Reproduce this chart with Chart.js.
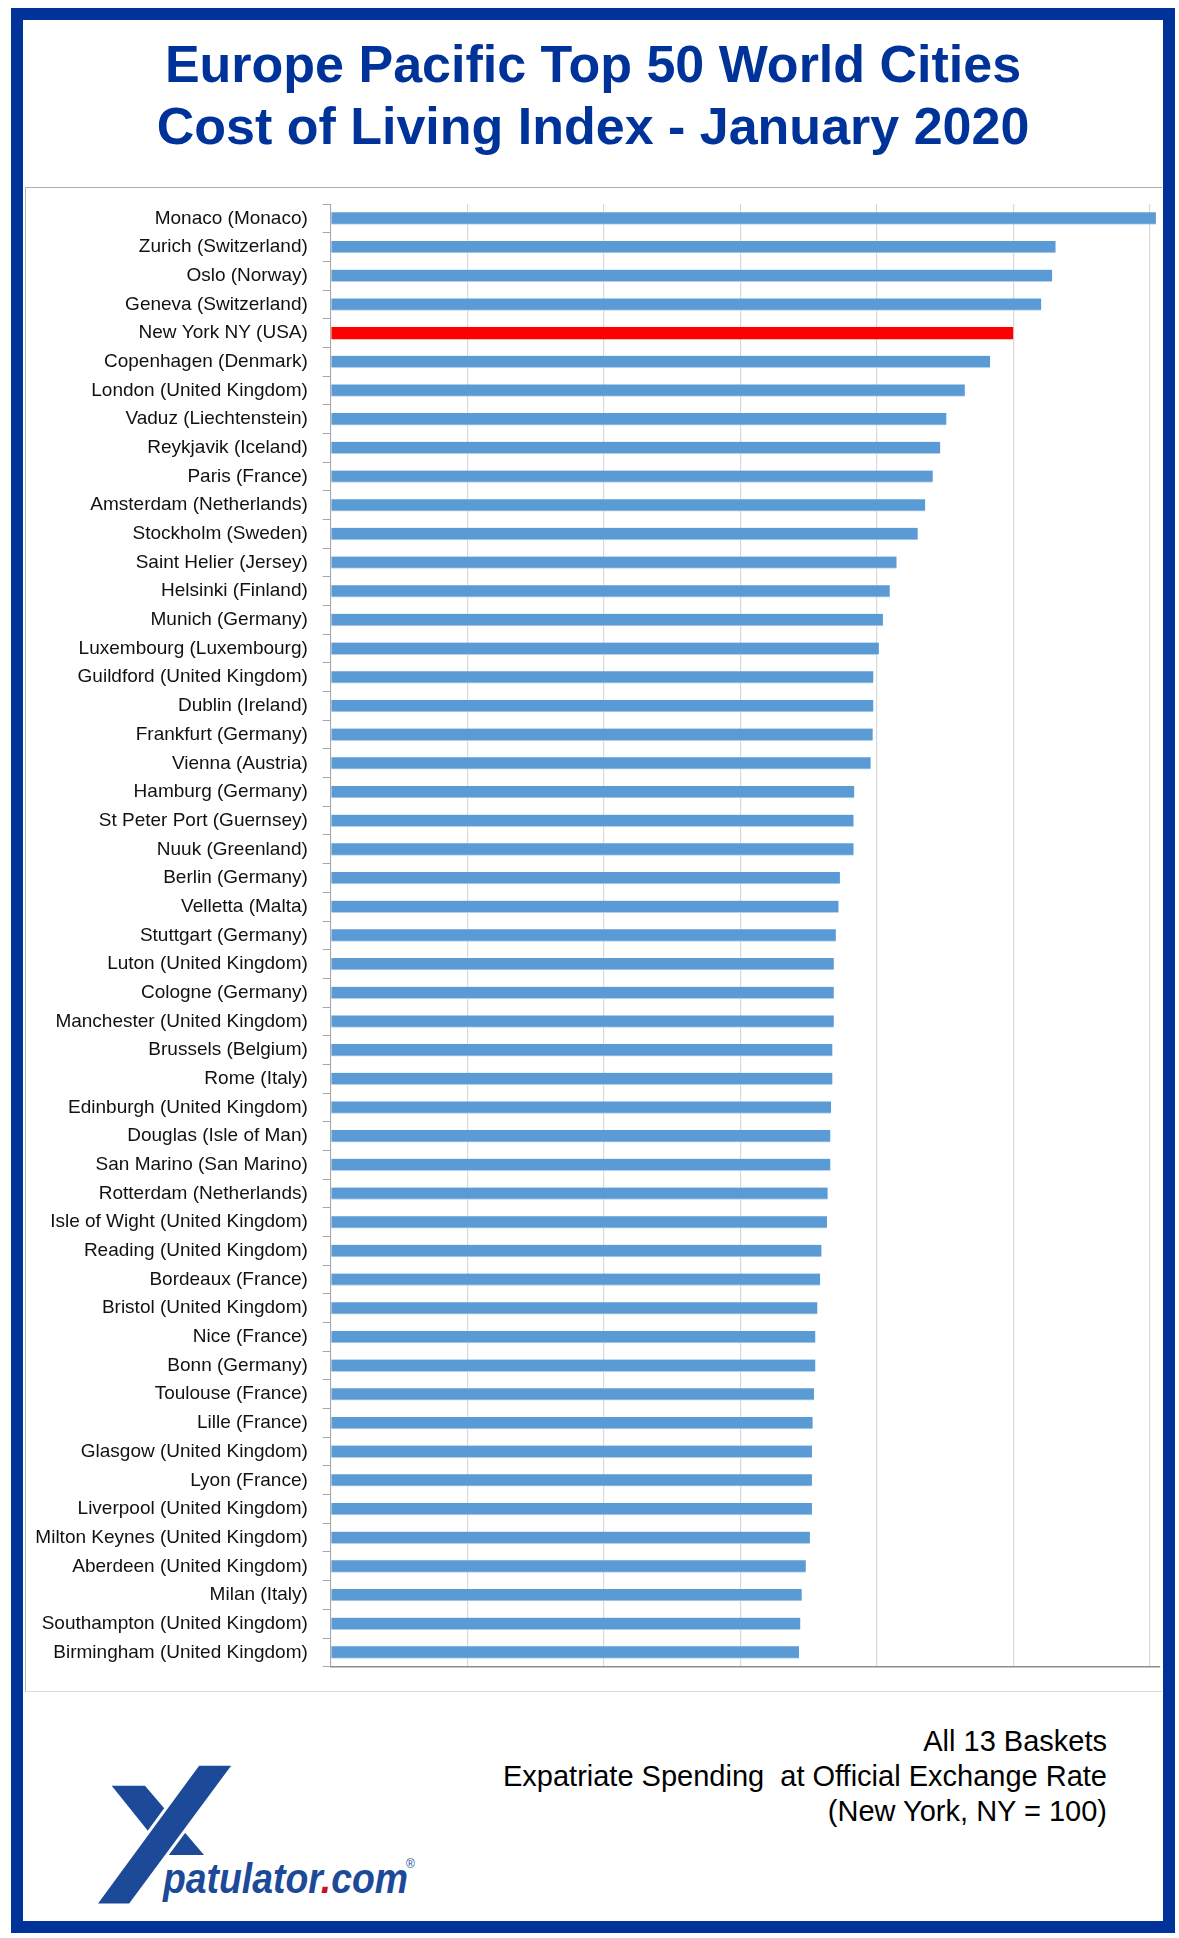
<!DOCTYPE html>
<html lang="en">
<head>
  <meta charset="UTF-8">
  <title>Europe Pacific Top 50 World Cities - Cost of Living Index - January 2020</title>
  <script src="https://cdn.jsdelivr.net/npm/chart.js@4.4.1/dist/chart.umd.min.js"></script>
  <style>
    html, body { margin: 0; padding: 0; background: #fff; }
    body { position: relative; width: 1179px; height: 1938px; overflow: hidden; font-family: "Liberation Sans", Arial, sans-serif; }
    .frame { position: absolute; left: 10.5px; top: 8.3px; width: 1164.5px; height: 1925px; border: 12.5px solid #003399; box-sizing: border-box; }
    .title { position: absolute; left: 23px; width: 1140px; top: 33px; text-align: center; color: #003399; font-weight: bold; font-size: 52px; line-height: 62px; }
    .chartBox { position: absolute; left: 25px; top: 187px; width: 1137px; height: 1505px; border-top: 1.5px solid #adadad; border-left: 1.5px solid #b5b5b5; border-bottom: 1px solid #dadada; box-sizing: border-box; }
    #chart { position: absolute; left: 25px; top: 187px; }
    .note { position: absolute; right: 72px; top: 1724px; text-align: right; font-size: 29px; line-height: 35px; color: #000; white-space: pre; }
    .logo { position: absolute; left: 0; top: 1700px; }
  </style>
</head>
<body>

<div class="frame"></div>
<div class="title">Europe Pacific Top 50 World Cities<br>Cost of Living Index - January 2020</div>
<div class="chartBox"></div>
<canvas id="chart" width="1137" height="1505" style="width:1137px;height:1505px"></canvas>

<div class="note">All 13 Baskets
Expatriate Spending  at Official Exchange Rate
(New York, NY = 100)</div>

<svg class="logo" width="480" height="230" viewBox="0 1700 480 230">
  <polygon points="111.7,1785.7 145,1785.7 204,1855 167.3,1855" fill="#1c4a99"/>
  <polygon points="198.3,1764.3 234,1764.3 130,1905 95,1905" fill="#1c4a99" stroke="#fff" stroke-width="3" stroke-linejoin="miter"/>
  <text x="163" y="1893" font-family="Liberation Sans, Arial, sans-serif" font-weight="bold" font-style="italic" font-size="43" fill="#1c4a99" textLength="245" lengthAdjust="spacingAndGlyphs">patulator<tspan fill="#c8102e">.</tspan>com</text>
  <text x="406" y="1868" font-family="Liberation Sans, Arial, sans-serif" font-size="12" fill="#1c4a99">®</text>
</svg>

<script>
  const cities = [
    "Monaco (Monaco)", "Zurich (Switzerland)", "Oslo (Norway)", "Geneva (Switzerland)",
    "New York NY (USA)", "Copenhagen (Denmark)", "London (United Kingdom)", "Vaduz (Liechtenstein)",
    "Reykjavik (Iceland)", "Paris (France)", "Amsterdam (Netherlands)", "Stockholm (Sweden)",
    "Saint Helier (Jersey)", "Helsinki (Finland)", "Munich (Germany)", "Luxembourg (Luxembourg)",
    "Guildford (United Kingdom)", "Dublin (Ireland)", "Frankfurt (Germany)", "Vienna (Austria)",
    "Hamburg (Germany)", "St Peter Port (Guernsey)", "Nuuk (Greenland)", "Berlin (Germany)",
    "Velletta (Malta)", "Stuttgart (Germany)", "Luton (United Kingdom)", "Cologne (Germany)",
    "Manchester (United Kingdom)", "Brussels (Belgium)", "Rome (Italy)", "Edinburgh (United Kingdom)",
    "Douglas (Isle of Man)", "San Marino (San Marino)", "Rotterdam (Netherlands)", "Isle of Wight (United Kingdom)",
    "Reading (United Kingdom)", "Bordeaux (France)", "Bristol (United Kingdom)", "Nice (France)",
    "Bonn (Germany)", "Toulouse (France)", "Lille (France)", "Glasgow (United Kingdom)",
    "Lyon (France)", "Liverpool (United Kingdom)", "Milton Keynes (United Kingdom)", "Aberdeen (United Kingdom)",
    "Milan (Italy)", "Southampton (United Kingdom)", "Birmingham (United Kingdom)"
  ];

  const costIndex = [
    120.9, 106.2, 105.7, 104.1,
    100.0, 96.6, 92.9, 90.2,
    89.3, 88.2, 87.1, 86.0,
    82.9, 81.9, 80.9, 80.3,
    79.5, 79.5, 79.4, 79.1,
    76.7, 76.6, 76.6, 74.6,
    74.4, 74.0, 73.7, 73.7,
    73.7, 73.5, 73.5, 73.3,
    73.2, 73.2, 72.8, 72.7,
    71.9, 71.7, 71.3, 71.0,
    71.0, 70.8, 70.6, 70.5,
    70.5, 70.5, 70.2, 69.6,
    69.0, 68.8, 68.6
  ];

  const baseCity = "New York NY (USA)";
  const axisMax = 121.5;

  const barColors = cities.map(c => c === baseCity ? "#ff0000" : "#5b9bd5");
  const barEdges = cities.map(c => c === baseCity ? "#ff0000" : "#b7d1ec");

  new Chart(document.getElementById("chart"), {
    type: "bar",
    data: {
      labels: cities,
      datasets: [{
        data: costIndex,
        backgroundColor: barColors,
        borderColor: barEdges,
        borderWidth: { top: 0, right: 0, bottom: 1, left: 0 },
        borderSkipped: false,
        barThickness: 12
      }]
    },
    options: {
      indexAxis: "y",
      responsive: false,
      animation: false,
      layout: { padding: { left: 0, top: 17, right: 2, bottom: 25.3 } },
      plugins: {
        legend: { display: false },
        tooltip: { enabled: false }
      },
      scales: {
        x: {
          min: 0,
          max: axisMax,
          ticks: { display: false, stepSize: 20, includeBounds: false },
          grid: { color: "#d9d9d9", lineWidth: 1.2, drawTicks: false },
          border: { color: "#8c8c8c", width: 1.5 },
          afterFit: s => { s.height = 0; s.paddingLeft = 0; s.paddingRight = 0; }
        },
        y: {
          ticks: {
            autoSkip: false,
            color: "#111",
            padding: 15,
            font: { family: "'Liberation Sans', Arial, sans-serif", size: 19 }
          },
          grid: { offset: true, drawOnChartArea: false, tickLength: 8, color: "#a6a6a6" },
          border: { color: "#a6a6a6", width: 1 },
          afterFit: s => { s.width = 305.8; s.paddingTop = 0; s.paddingBottom = 0; }
        }
      }
    }
  });
</script>
</body>
</html>
